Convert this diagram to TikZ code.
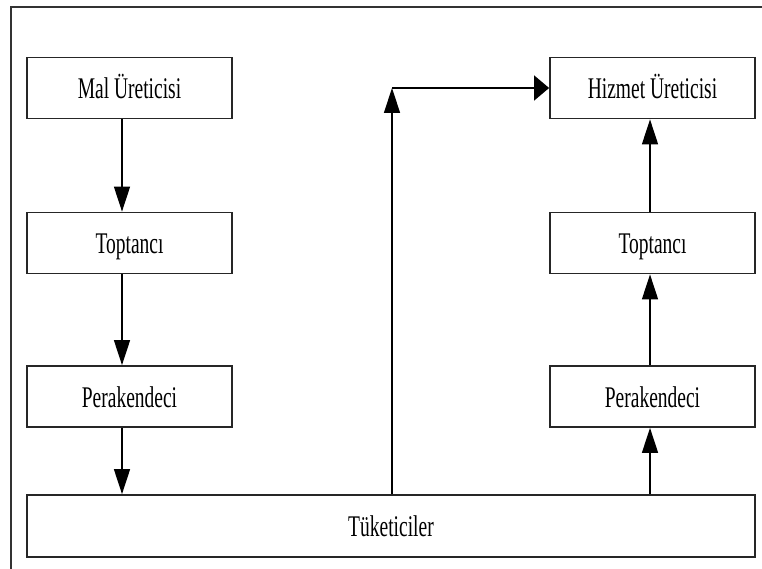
\documentclass[tikz,border=0pt]{standalone}
\usepackage{fontspec}
\setmainfont{Liberation Serif}
\usetikzlibrary{arrows.meta}
\begin{document}
\begin{tikzpicture}[x=1pt,y=-1pt,
  box/.style={draw=black!85, line width=1.8pt, minimum width=205pt, minimum height=61pt,
    inner sep=0pt, text height=21pt, text depth=0pt,
    font=\fontsize{30}{36}\selectfont},
  flow/.style={line width=1.4pt, black},
  vtip/.style={-{Triangle[length=25pt,width=16pt]}},
  htip/.style={-{Triangle[length=15pt,width=25pt]}}]
\newcommand{\lbl}[1]{\scalebox{0.65}[1]{#1}}
\useasboundingbox (0,0) rectangle (762,569);
% outer frame (open on the right and at the bottom)
\draw[line width=1.6pt, black!80] (11,569) -- (11,7) -- (762,7);
% goods channel
\node[box] (mal) at (129.5,88) {\lbl{Mal Üreticisi}};
\node[box] (ltop) at (129.5,243) {\lbl{Toptancı}};
\node[box] (lper) at (129.5,396.5) {\lbl{Perakendeci}};
% service channel
\node[box] (hiz) at (652.5,88) {\lbl{Hizmet Üreticisi}};
\node[box] (rtop) at (652.5,243) {\lbl{Toptancı}};
\node[box] (rper) at (652.5,396.5) {\lbl{Perakendeci}};
% consumers
\node[box, minimum width=728pt, minimum height=62pt] (tuk) at (391,526) {\lbl{Tüketiciler}};
% connector columns
\coordinate (cl) at (122,0);
\coordinate (cr) at (650,0);
\coordinate (cm) at (392,0);
\coordinate (corner) at (392,88);
\draw[flow, vtip] (mal.south -| cl) -- (ltop.north -| cl);
\draw[flow, vtip] (ltop.south -| cl) -- (lper.north -| cl);
\draw[flow, vtip] (lper.south -| cl) -- (tuk.north -| cl);
\draw[flow, vtip] (tuk.north -| cr) -- (rper.south -| cr);
\draw[flow, vtip] (rper.north -| cr) -- (rtop.south -| cr);
\draw[flow, vtip] (rtop.north -| cr) -- (hiz.south -| cr);
\draw[flow, vtip] (tuk.north -| cm) -- (corner);
\draw[flow, htip] (corner) -- (hiz.west);
\end{tikzpicture}
\end{document}
